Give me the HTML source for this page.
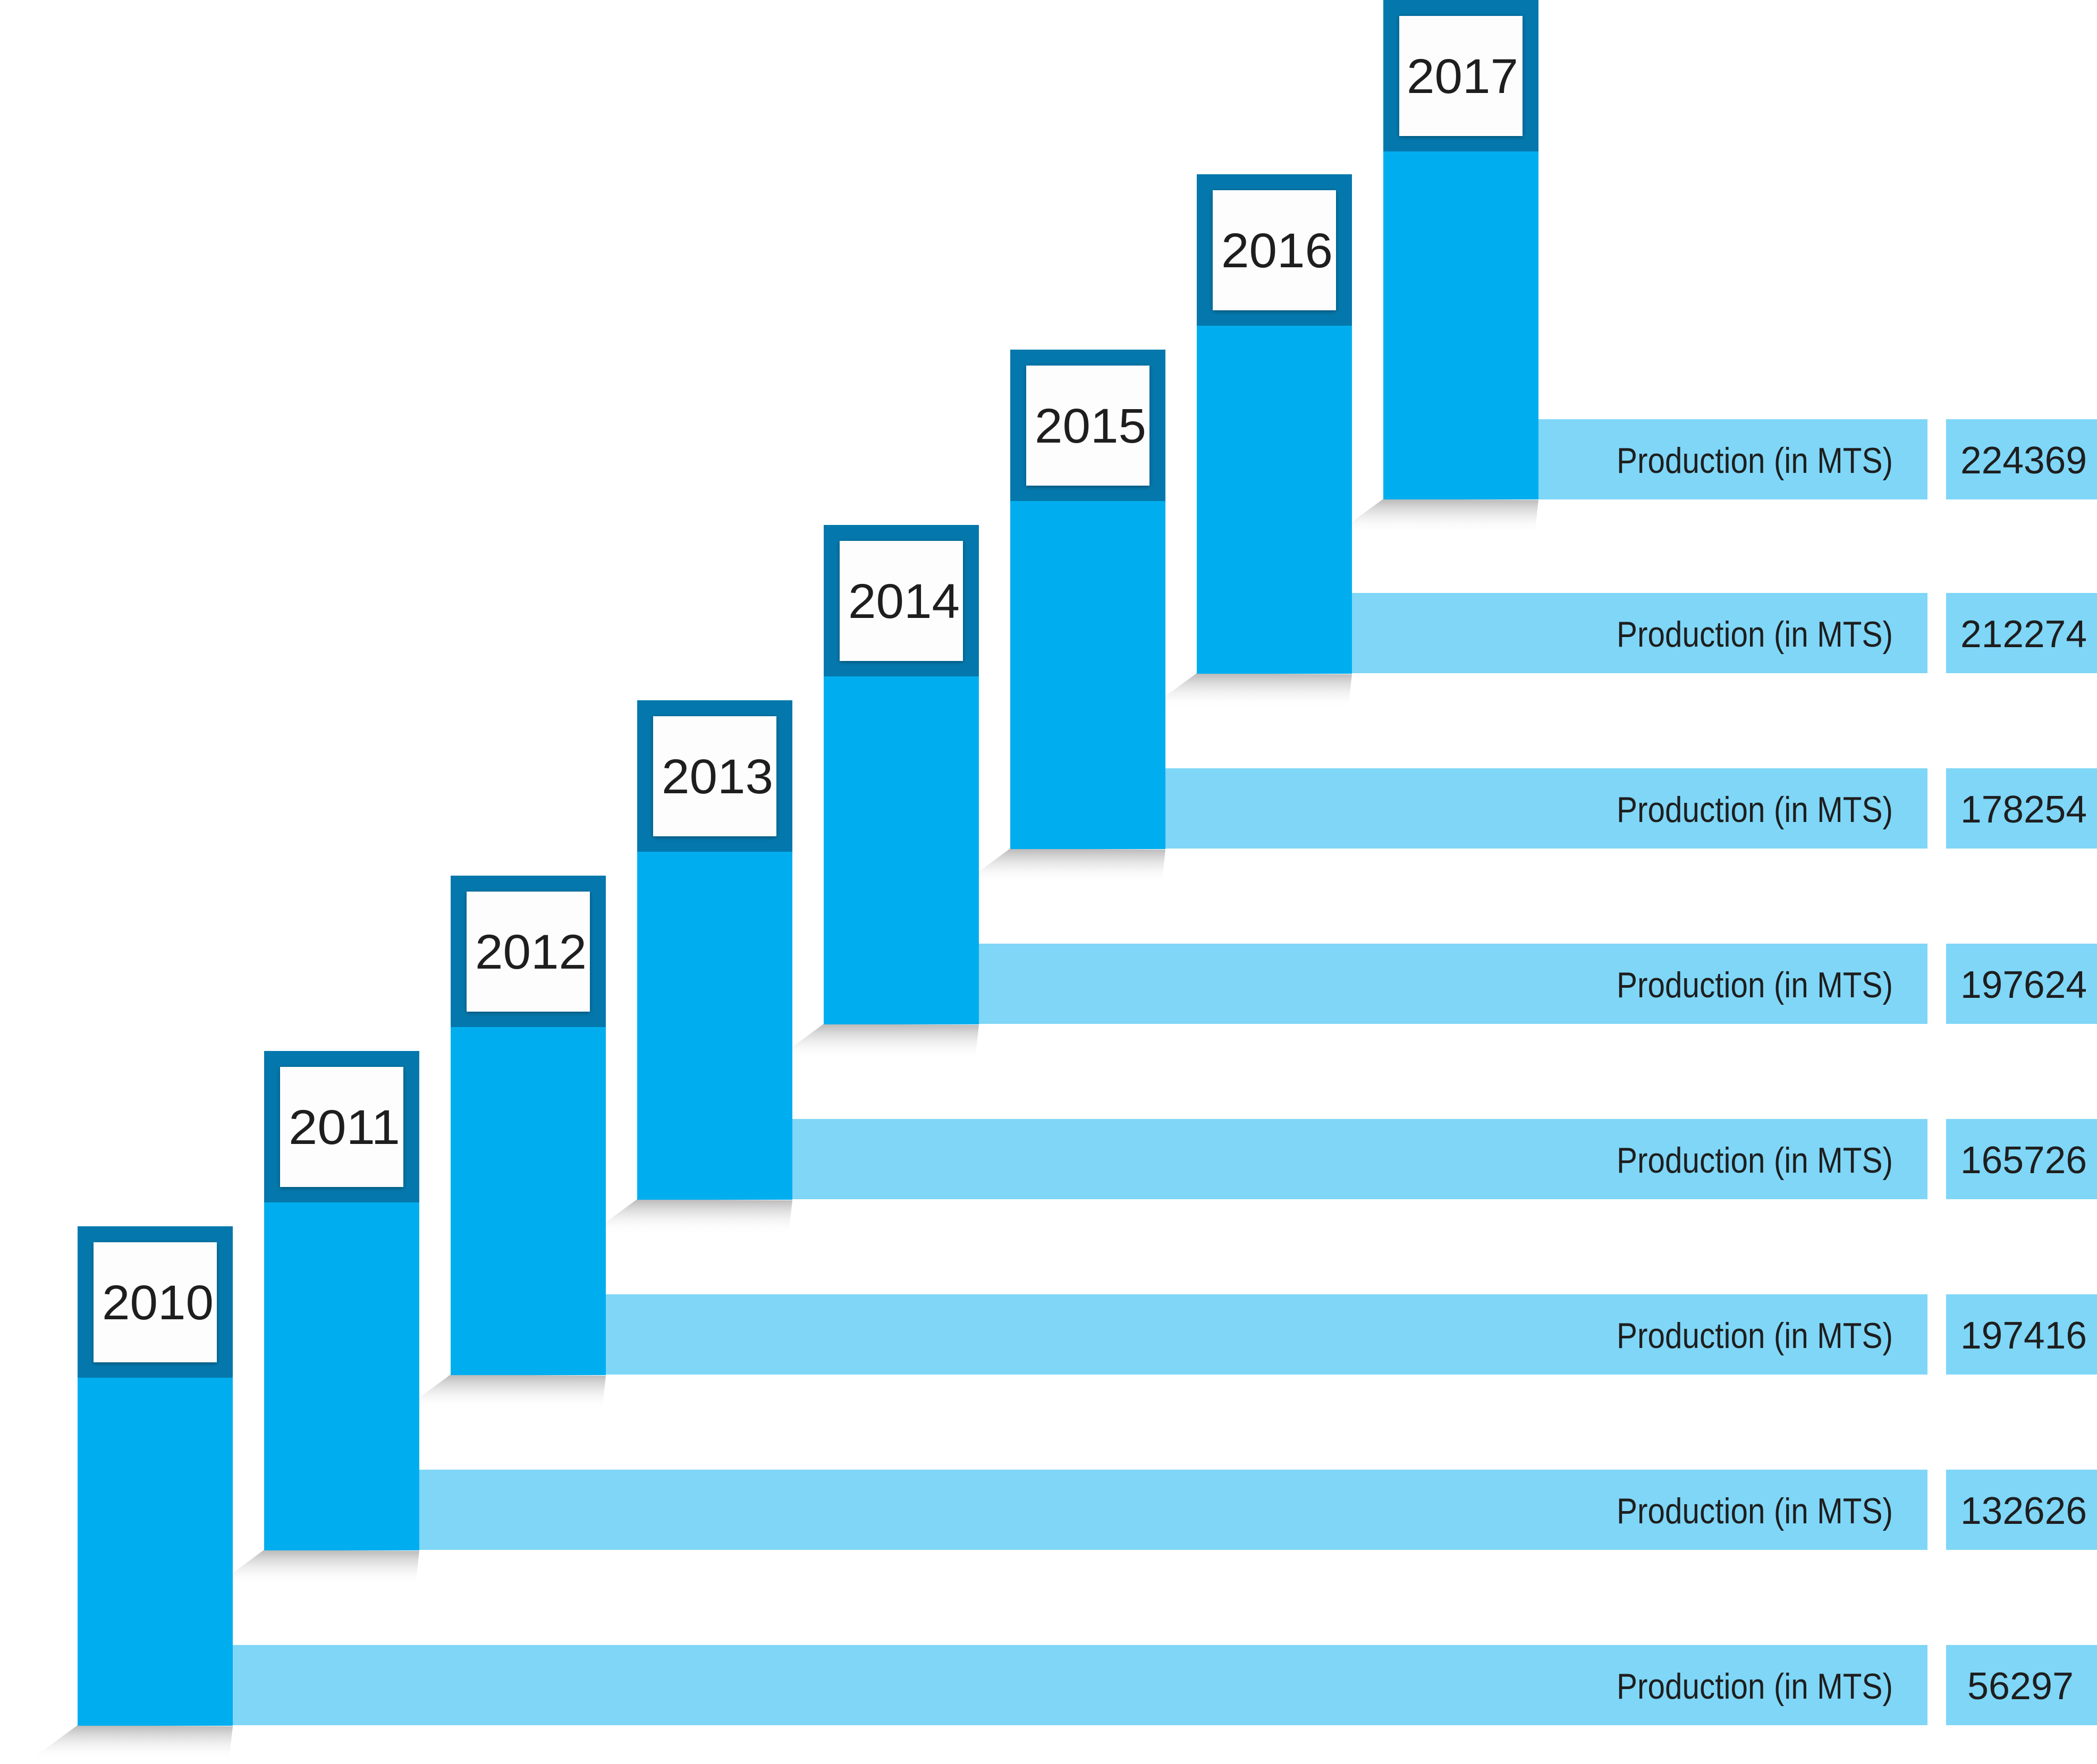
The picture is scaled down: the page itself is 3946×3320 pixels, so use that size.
<!DOCTYPE html>
<html><head><meta charset="utf-8"><style>html,body{margin:0;padding:0;background:#fff}svg{display:block}</style></head>
<body>
<svg width="3946" height="3320" viewBox="0 0 3946 3320" xmlns="http://www.w3.org/2000/svg" font-family="Liberation Sans, sans-serif">
<defs>
<linearGradient id="sh" x1="0" y1="0" x2="0" y2="1"><stop offset="0" stop-color="#b8b8b8"/><stop offset="1" stop-color="#fff" stop-opacity="0"/></linearGradient>
<filter id="ds" x="-10%" y="-10%" width="120%" height="120%"><feDropShadow dx="0" dy="2" stdDeviation="4" flood-color="#000" flood-opacity="0.35"/></filter>
<polygon id="shd" points="0,939 292,941 285,1005 -90,1005" fill="url(#sh)"/>
<g id="col">
<rect x="0" y="0" width="292" height="940" fill="#00aeef"/>
<rect x="0" y="0" width="292" height="285" fill="#0478ac"/>
<rect x="30" y="30" width="232" height="226" fill="#fdfdfd" filter="url(#ds)"/>
</g>
</defs>
<use href="#shd" x="146" y="2308"/>
<use href="#shd" x="497" y="1978"/>
<use href="#shd" x="848" y="1648"/>
<use href="#shd" x="1199" y="1318"/>
<use href="#shd" x="1550" y="988"/>
<use href="#shd" x="1901" y="658"/>
<use href="#shd" x="2252" y="328"/>
<use href="#shd" x="2603" y="0"/>
<g fill="#7fd6f7">
<rect x="438" y="3096" width="3189" height="151"/><rect x="3662" y="3096" width="284" height="151"/>
<rect x="789" y="2766" width="2838" height="151"/><rect x="3662" y="2766" width="284" height="151"/>
<rect x="1140" y="2436" width="2487" height="151"/><rect x="3662" y="2436" width="284" height="151"/>
<rect x="1491" y="2106" width="2136" height="151"/><rect x="3662" y="2106" width="284" height="151"/>
<rect x="1842" y="1776" width="1785" height="151"/><rect x="3662" y="1776" width="284" height="151"/>
<rect x="2193" y="1446" width="1434" height="151"/><rect x="3662" y="1446" width="284" height="151"/>
<rect x="2544" y="1116" width="1083" height="151"/><rect x="3662" y="1116" width="284" height="151"/>
<rect x="2895" y="789" width="732" height="151"/><rect x="3662" y="789" width="284" height="151"/>
</g>
<use href="#col" x="146" y="2308"/>
<use href="#col" x="497" y="1978"/>
<use href="#col" x="848" y="1648"/>
<use href="#col" x="1199" y="1318"/>
<use href="#col" x="1550" y="988"/>
<use href="#col" x="1901" y="658"/>
<use href="#col" x="2252" y="328"/>
<use href="#col" x="2603" y="0"/>
<g font-size="92" fill="#1e1e1e" text-anchor="middle">
<text x="297" y="2483" textLength="210" lengthAdjust="spacingAndGlyphs">2010</text>
<text x="648" y="2153" textLength="210" lengthAdjust="spacingAndGlyphs">2011</text>
<text x="999" y="1823" textLength="210" lengthAdjust="spacingAndGlyphs">2012</text>
<text x="1350" y="1493" textLength="210" lengthAdjust="spacingAndGlyphs">2013</text>
<text x="1701" y="1163" textLength="210" lengthAdjust="spacingAndGlyphs">2014</text>
<text x="2052" y="833" textLength="210" lengthAdjust="spacingAndGlyphs">2015</text>
<text x="2403" y="503" textLength="210" lengthAdjust="spacingAndGlyphs">2016</text>
<text x="2752" y="175" textLength="210" lengthAdjust="spacingAndGlyphs">2017</text>
</g>
<g font-size="68" fill="#1e1e1e" text-anchor="end">
<text x="3562" y="3197" textLength="520" lengthAdjust="spacingAndGlyphs">Production (in MTS)</text>
<text x="3562" y="2867" textLength="520" lengthAdjust="spacingAndGlyphs">Production (in MTS)</text>
<text x="3562" y="2537" textLength="520" lengthAdjust="spacingAndGlyphs">Production (in MTS)</text>
<text x="3562" y="2207" textLength="520" lengthAdjust="spacingAndGlyphs">Production (in MTS)</text>
<text x="3562" y="1877" textLength="520" lengthAdjust="spacingAndGlyphs">Production (in MTS)</text>
<text x="3562" y="1547" textLength="520" lengthAdjust="spacingAndGlyphs">Production (in MTS)</text>
<text x="3562" y="1217" textLength="520" lengthAdjust="spacingAndGlyphs">Production (in MTS)</text>
<text x="3562" y="890" textLength="520" lengthAdjust="spacingAndGlyphs">Production (in MTS)</text>
</g>
<g font-size="72" fill="#1e1e1e" text-anchor="middle">
<text x="3802" y="3198" textLength="200" lengthAdjust="spacingAndGlyphs">56297</text>
<text x="3808" y="2868" textLength="238" lengthAdjust="spacingAndGlyphs">132626</text>
<text x="3808" y="2538" textLength="238" lengthAdjust="spacingAndGlyphs">197416</text>
<text x="3808" y="2208" textLength="238" lengthAdjust="spacingAndGlyphs">165726</text>
<text x="3808" y="1878" textLength="238" lengthAdjust="spacingAndGlyphs">197624</text>
<text x="3808" y="1548" textLength="238" lengthAdjust="spacingAndGlyphs">178254</text>
<text x="3808" y="1218" textLength="238" lengthAdjust="spacingAndGlyphs">212274</text>
<text x="3808" y="891" textLength="238" lengthAdjust="spacingAndGlyphs">224369</text>
</g>
</svg>
</body></html>
